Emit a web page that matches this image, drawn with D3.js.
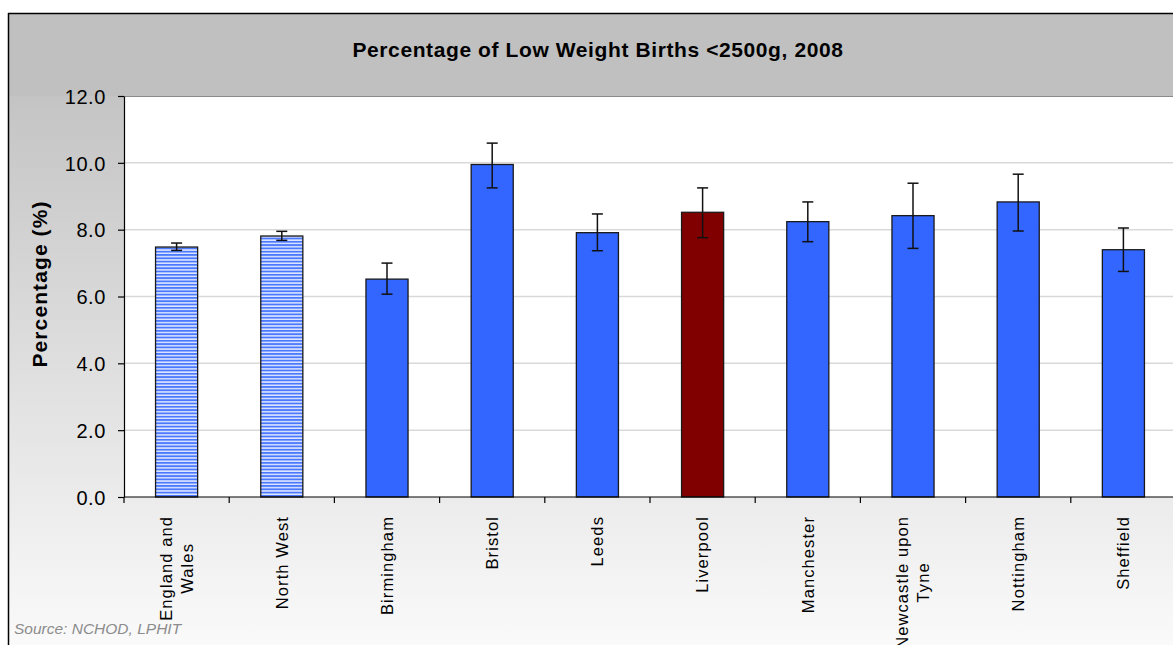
<!DOCTYPE html>
<html><head><meta charset="utf-8">
<script src="https://cdn.jsdelivr.net/npm/d3@7"></script>
<style>html,body{margin:0;padding:0;background:#fff;overflow:hidden}</style>
</head><body>
<svg id="c" width="1173" height="645"></svg>
<script>
const categories = ["England and|Wales","North West","Birmingham","Bristol","Leeds","Liverpool","Manchester","Newcastle upon|Tyne","Nottingham","Sheffield"];
const values = [7.48, 7.81, 6.52, 9.95, 7.91, 8.52, 8.24, 8.42, 8.83, 7.40];
const lower = [7.38, 7.68, 6.07, 9.25, 7.37, 7.76, 7.64, 7.44, 7.96, 6.75];
const upper = [7.60, 7.95, 7.00, 10.59, 8.47, 9.25, 8.83, 9.39, 9.66, 8.05];
const kinds = ["region","region","city","city","city","focus","city","city","city","city"];
const yTicks = [0, 2, 4, 6, 8, 10, 12];
const title = "Percentage of Low Weight Births <2500g, 2008";
const yLabel = "Percentage (%)";
const source = "Source: NCHOD, LPHIT";

(function(){
const svg = d3.select("#c");
const defs = svg.append("defs");
const grad = defs.append("linearGradient").attr("id","bg").attr("x1",0).attr("y1",0).attr("x2",0).attr("y2",1);
grad.append("stop").attr("offset","0%").attr("stop-color","#c4c4c4");
grad.append("stop").attr("offset","100%").attr("stop-color","#fbfbfb");
const pat = defs.append("pattern").attr("id","stripe").attr("patternUnits","userSpaceOnUse").attr("width",6).attr("height",3.3);
pat.append("rect").attr("width",6).attr("height",3.3).attr("fill","#dfe7ff");
pat.append("rect").attr("width",6).attr("height",1.8).attr("fill","#4a78ff");

svg.append("rect").attr("x",8).attr("y",96).attr("width",1170).attr("height",560).attr("fill","url(#bg)");
svg.append("rect").attr("x",8).attr("y",13).attr("width",1170).attr("height",83).attr("fill","#c0c0c0");
svg.append("line").attr("x1",8).attr("x2",1173).attr("y1",13.5).attr("y2",13.5).attr("stroke","#000").attr("stroke-width",1.5);
svg.append("line").attr("x1",8.5).attr("x2",8.5).attr("y1",13).attr("y2",645).attr("stroke","#000").attr("stroke-width",1.5);

const pLeft = 124, pTop = 96, pBottom = 497, pRight = 1176;
svg.append("rect").attr("x",pLeft).attr("y",pTop).attr("width",pRight-pLeft).attr("height",pBottom-pTop).attr("fill","#fff");
svg.append("line").attr("x1",pLeft).attr("x2",1173).attr("y1",pTop+0.5).attr("y2",pTop+0.5).attr("stroke","#8a8a8a").attr("stroke-width",1);

const x = d3.scaleBand().domain(categories).range([pLeft,pRight]).paddingInner(0.6).paddingOuter(0.3);
const y = d3.scaleLinear().domain([0,12]).range([pBottom,pTop]);

svg.append("g").selectAll("line").data(yTicks.filter(t=>t>0 && t<12)).join("line")
  .attr("x1",pLeft).attr("x2",pRight).attr("y1",d=>y(d)).attr("y2",d=>y(d))
  .attr("stroke","#d9d9d9").attr("stroke-width",1.5);

const fillFor = k => k==="region" ? "url(#stripe)" : (k==="focus" ? "#800000" : "#3366ff");
svg.append("g").selectAll("rect").data(categories).join("rect")
  .attr("x",d=>x(d)).attr("width",x.bandwidth())
  .attr("y",(d,i)=>y(values[i])).attr("height",(d,i)=>y(0)-y(values[i]))
  .attr("fill",(d,i)=>fillFor(kinds[i])).attr("stroke","#1a1a1a").attr("stroke-width",1.3);

const eb = svg.append("g").attr("stroke","#111").attr("stroke-width",1.5);
categories.forEach((c,i)=>{
  const cx = x(c)+x.bandwidth()/2;
  eb.append("line").attr("x1",cx).attr("x2",cx).attr("y1",y(upper[i])).attr("y2",y(lower[i]));
  eb.append("line").attr("x1",cx-5.5).attr("x2",cx+5.5).attr("y1",y(upper[i])).attr("y2",y(upper[i]));
  eb.append("line").attr("x1",cx-5.5).attr("x2",cx+5.5).attr("y1",y(lower[i])).attr("y2",y(lower[i]));
});

const ya = svg.append("g").attr("transform",`translate(${pLeft},0)`)
  .call(d3.axisLeft(y).tickValues(yTicks).tickFormat(d3.format(".1f")).tickSize(6).tickSizeOuter(0).tickPadding(12));
ya.select(".domain").attr("stroke","#000").attr("stroke-width",1.2);
ya.selectAll(".tick line").attr("stroke","#000").attr("stroke-width",1.2);
ya.selectAll(".tick text").attr("font-family","'Liberation Sans', Arial, sans-serif").attr("font-size",20).attr("letter-spacing",0.6).attr("fill","#000").attr("dy","0.36em");

const step = x.step();
const boundaries = d3.range(categories.length+1).map(i=>pLeft+i*step);
svg.append("line").attr("x1",pLeft).attr("x2",pRight).attr("y1",pBottom).attr("y2",pBottom).attr("stroke","#000").attr("stroke-width",1.2);
svg.append("g").selectAll("line").data(boundaries).join("line")
  .attr("x1",d=>d).attr("x2",d=>d).attr("y1",pBottom).attr("y2",pBottom+6).attr("stroke","#000").attr("stroke-width",1.2);

const lab = svg.append("g").attr("font-family","'Liberation Sans', Arial, sans-serif").attr("font-size",16.5).attr("letter-spacing",1.1).attr("fill","#000");
categories.forEach(c=>{
  const lines = c.split("|");
  const cx = x(c)+x.bandwidth()/2;
  const g = lab.append("g").attr("transform",`translate(${cx},516) rotate(-90)`);
  if (lines.length===1) {
    g.append("text").attr("x",0).attr("y",0).attr("dy","0.35em").attr("text-anchor","end").text(lines[0]);
  } else {
    const texts = lines.map((l,j)=>g.append("text").attr("dy","0.35em").attr("text-anchor","middle").attr("y",(j-(lines.length-1)/2)*21).text(l));
    const w = d3.max(texts, t=>t.node().getComputedTextLength());
    texts.forEach(t=>t.attr("x",-w/2));
  }
});

svg.append("text").attr("x",598).attr("y",57).attr("text-anchor","middle")
  .attr("font-family","'Liberation Sans', Arial, sans-serif").attr("font-weight","bold").attr("font-size",21).attr("letter-spacing",0.6).attr("fill","#000").text(title);

svg.append("text").attr("transform","translate(47,284) rotate(-90)").attr("text-anchor","middle")
  .attr("font-family","'Liberation Sans', Arial, sans-serif").attr("font-weight","bold").attr("font-size",21).attr("letter-spacing",1.1).attr("fill","#000").text(yLabel);

svg.append("text").attr("x",14).attr("y",634)
  .attr("font-family","'Liberation Sans', Arial, sans-serif").attr("font-style","italic").attr("font-size",15.5).attr("fill","#8c8c8c").text(source);
})();
</script>
</body></html>
